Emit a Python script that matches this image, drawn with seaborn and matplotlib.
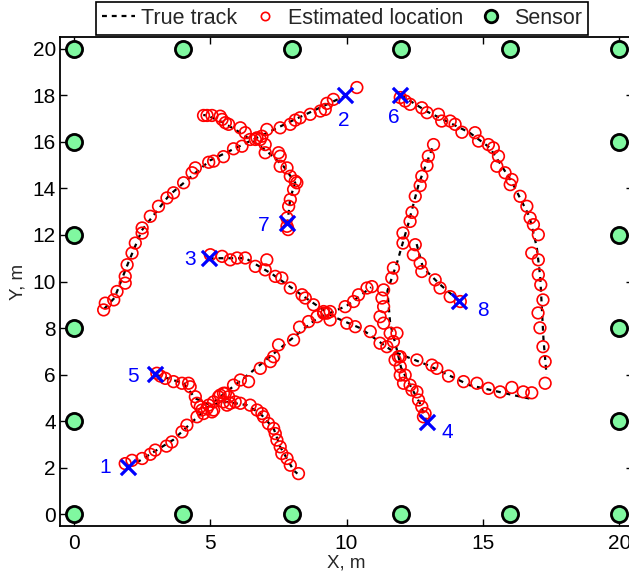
import matplotlib
matplotlib.use("Agg")
import matplotlib.pyplot as plt
from matplotlib.lines import Line2D
import numpy as np
import pandas as pd
import seaborn as sns

# ---- sensor grid (perimeter of a 20 m x 20 m area) ----
SENSOR_X = [0, 4, 8, 12, 16, 20, 0, 4, 8, 12, 16, 20, 0, 0, 0, 0, 20, 20, 20, 20]
SENSOR_Y = [0, 0, 0, 0, 0, 0, 20, 20, 20, 20, 20, 20, 4, 8, 12, 16, 4, 8, 12, 16]

# ---- true tracks (polyline vertices, m) ----
TRUE_1 = [(2.0, 2.0), (3.65, 3.2), (5.05, 4.75), (6.5, 6.1), (7.95, 7.5), (8.9, 8.4), (10.0, 8.95), (10.9, 9.75)]
TRUE_2 = [(10.0, 18.0), (8.0, 16.9), (6.5, 16.05), (5.0, 15.2), (3.5, 13.7), (2.5, 12.2), (2.0, 10.8), (1.5, 9.3), (1.1, 8.8)]
TRUE_3 = [(4.95, 11.0), (6.3, 11.0), (7.3, 10.3), (8.5, 9.3), (9.5, 8.5), (10.5, 8.0), (11.7, 7.0), (13.0, 6.4),
          (14.5, 5.55), (16.0, 5.15), (16.8, 4.95)]
TRUE_4 = [(12.95, 3.95), (12.7, 4.75), (12.35, 5.5), (12.0, 6.3), (11.85, 7.05), (11.6, 8.2), (11.5, 9.6),
          (11.85, 10.8), (12.27, 12.5), (12.65, 14.2), (13.2, 15.9)]
TRUE_5 = [(3.0, 6.0), (4.03, 5.63), (4.46, 4.98), (5.01, 4.69), (5.62, 4.83), (6.35, 4.69), (6.84, 4.33),
          (7.33, 3.69), (7.57, 2.9), (8.06, 1.89), (8.2, 1.75)]
TRUE_6 = [(12.0, 18.0), (12.95, 17.3), (14.5, 16.4), (15.25, 15.75), (16.05, 14.3), (16.7, 12.8), (16.97, 11.5),
          (17.1, 10.2), (17.22, 7.5), (17.33, 6.0)]
TRUE_7 = [(7.83, 12.45), (7.94, 13.59), (8.12, 14.24), (7.69, 14.95), (7.08, 15.6), (6.11, 16.39), (5.49, 16.82),
          (4.89, 17.13), (4.75, 17.15)]
TRUE_8 = [(14.12, 9.17), (13.4, 9.9), (12.8, 10.6), (12.55, 11.7)]

# ---- estimated locations (m) ----
EST_1 = [(1.89, 2.18), (2.14, 2.32), (2.51, 2.40), (2.81, 2.58), (2.99, 2.76), (3.40, 2.93), (3.60, 3.11),
         (3.97, 3.54), (4.15, 3.83), (4.52, 4.19), (4.70, 4.48), (4.95, 4.69), (5.13, 4.83), (5.31, 5.05),
         (5.49, 5.20), (5.86, 5.55), (6.11, 5.77), (6.41, 5.70), (6.84, 6.27), (7.21, 6.56), (7.33, 6.77),
         (7.51, 7.28), (8.06, 7.49), (8.28, 8.04), (8.61, 8.28), (8.92, 8.49), (9.16, 8.71), (9.40, 8.71),
         (9.95, 8.92), (10.26, 9.14), (10.44, 9.43), (10.75, 9.72), (10.93, 9.78)]
EST_2 = [(10.38, 18.33), (9.52, 17.82), (9.28, 17.65), (9.22, 17.39), (9.04, 17.32), (8.67, 17.18), (8.30, 17.03),
         (8.12, 16.93), (7.94, 16.75), (7.57, 16.60), (7.08, 16.53), (6.90, 16.24), (6.66, 16.10), (6.47, 16.10),
         (6.17, 15.81), (5.86, 15.70), (5.49, 15.36), (5.13, 15.17), (4.95, 15.12), (4.46, 14.88), (4.34, 14.67),
         (4.03, 14.24), (3.66, 13.81), (3.42, 13.59), (3.11, 13.23), (2.81, 12.80), (2.51, 12.30), (2.51, 12.08),
         (2.26, 11.65), (2.14, 11.22), (1.96, 10.72), (1.89, 10.22), (1.89, 9.93), (1.59, 9.57), (1.47, 9.21),
         (1.16, 9.07), (1.10, 8.78)]
EST_3 = [(5.01, 11.15), (5.44, 11.08), (5.74, 10.93), (5.99, 11.01), (6.29, 11.01), (6.66, 10.65), (7.02, 10.50),
         (7.08, 10.93), (7.39, 10.22), (7.63, 10.15), (7.94, 9.72), (8.37, 9.43), (8.49, 9.29), (8.79, 9.00),
         (9.16, 8.64), (9.28, 8.64), (9.40, 8.35), (10.01, 8.21), (10.32, 8.06), (10.87, 7.85), (11.23, 7.35),
         (11.48, 7.20), (12.58, 6.63), (13.13, 6.41), (13.31, 6.27), (13.74, 5.94), (14.29, 5.70), (14.78, 5.63),
         (15.20, 5.41), (15.63, 5.26), (16.06, 5.45), (16.48, 5.26), (16.79, 5.22)]
EST_4 = [(12.82, 4.19), (12.88, 4.33), (12.76, 4.62), (12.64, 4.91), (12.58, 5.26), (12.40, 5.34), (12.33, 5.55),
         (12.09, 5.63), (12.15, 5.98), (11.97, 5.98), (11.97, 6.34), (11.78, 6.63), (11.97, 6.77), (11.90, 6.77),
         (11.72, 7.42), (11.85, 7.78), (11.60, 7.78), (11.36, 8.21), (11.23, 8.49), (11.36, 8.92), (11.30, 9.29),
         (11.36, 9.64), (11.66, 10.15), (11.72, 10.58), (12.07, 11.65), (12.07, 12.08), (12.33, 12.58),
         (12.40, 12.97), (12.52, 13.66), (12.70, 14.12), (12.76, 14.52), (12.95, 14.98), (13.00, 15.38),
         (13.19, 15.88)]
EST_5 = [(3.05, 6.06), (3.18, 5.94), (3.36, 5.84), (3.66, 5.70), (3.97, 5.63), (4.21, 5.63), (4.27, 5.48),
         (4.46, 5.05), (4.52, 4.77), (4.64, 4.62), (4.76, 4.33), (4.89, 4.55), (5.07, 4.40), (5.13, 4.48),
         (5.37, 5.12), (5.56, 5.20), (5.68, 5.05), (5.49, 4.83), (5.74, 4.77), (5.92, 4.83), (6.11, 4.77),
         (5.62, 4.69), (6.47, 4.69), (6.72, 4.48), (6.90, 4.33), (6.96, 4.19), (7.14, 3.90), (7.33, 3.69),
         (7.39, 3.47), (7.45, 3.19), (7.57, 2.90), (7.63, 2.61), (7.82, 2.40), (7.94, 2.11), (8.24, 1.75)]
EST_6 = [(11.97, 17.90), (12.15, 17.75), (12.33, 17.61), (12.76, 17.46), (12.95, 17.25), (13.37, 17.18),
         (13.49, 16.89), (13.80, 16.89), (13.98, 16.75), (14.23, 16.41), (14.71, 16.39), (14.84, 16.03),
         (15.20, 15.88), (15.38, 15.74), (15.57, 15.38), (15.51, 14.95), (15.81, 14.67), (16.06, 14.38),
         (16.00, 14.16), (16.36, 13.66), (16.61, 13.23), (16.73, 12.73), (16.85, 12.44), (17.03, 12.01),
         (16.79, 11.22), (17.03, 10.93), (17.03, 10.29), (17.12, 9.86), (17.20, 9.21), (17.02, 8.65),
         (17.09, 8.01), (17.20, 7.20), (17.28, 6.56), (17.28, 5.63)]
EST_7 = [(7.82, 12.37), (7.86, 12.23), (7.82, 12.73), (7.88, 13.23), (7.94, 13.52), (8.06, 13.95), (8.18, 14.24),
         (8.12, 14.31), (7.94, 14.52), (7.82, 14.88), (7.57, 14.95), (7.57, 15.38), (7.51, 15.53), (7.02, 15.53),
         (7.02, 15.88), (6.84, 16.10), (6.72, 16.17), (6.29, 16.39), (6.11, 16.60), (5.68, 16.75), (5.56, 16.82),
         (5.44, 16.96), (5.37, 17.10), (5.07, 17.13), (4.89, 17.13), (4.76, 17.13)]
EST_8 = [(14.17, 9.14), (13.80, 9.35), (13.43, 9.72), (13.25, 10.07), (12.76, 10.43), (12.70, 10.79),
         (12.45, 11.15), (12.52, 11.58)]

# ---- track start points and their labels ----
TRACK_IDS = ["1", "2", "3", "4", "5", "6", "7", "8"]
START_X = [2.0, 9.95, 4.95, 12.95, 2.97, 11.97, 7.82, 14.12]
START_Y = [2.03, 18.03, 11.0, 3.97, 6.03, 18.03, 12.5, 9.15]
LABEL_X = [1.16, 9.9, 4.27, 13.7, 2.19, 11.72, 6.98, 15.0]
LABEL_Y = [2.02, 16.9, 10.93, 3.53, 5.94, 17.05, 12.4, 8.74]

TRUE_TRACKS = [TRUE_1, TRUE_2, TRUE_3, TRUE_4, TRUE_5, TRUE_6, TRUE_7, TRUE_8]
EST_TRACKS = [EST_1, EST_2, EST_3, EST_4, EST_5, EST_6, EST_7, EST_8]

true_df = pd.DataFrame(
    [(tid, i, x, y) for tid, trk in zip(TRACK_IDS, TRUE_TRACKS) for i, (x, y) in enumerate(trk)],
    columns=["track", "order", "x", "y"])
est_df = pd.DataFrame(
    [(tid, x, y) for tid, trk in zip(TRACK_IDS, EST_TRACKS) for (x, y) in trk],
    columns=["track", "x", "y"])
sensor_df = pd.DataFrame({"x": SENSOR_X, "y": SENSOR_Y})
start_df = pd.DataFrame({"x": START_X, "y": START_Y, "track": TRACK_IDS})

sns.set_style("ticks")
plt.rcParams["font.family"] = ["Liberation Sans", "DejaVu Sans"]

SENSOR_GREEN = "#80F8A0"

fig = plt.figure(figsize=(6.29, 5.75), dpi=100)
ax = fig.add_axes([60 / 629, 1 - 526 / 575, 573 / 629, 489 / 575])

# true tracks: one dashed polyline per track
sns.lineplot(data=true_df, x="x", y="y", units="track", estimator=None, sort=False,
             color="black", linestyle=(0, (2.2, 2.2)), linewidth=1.6, ax=ax, legend=False, zorder=2)

# estimated locations
sns.scatterplot(data=est_df, x="x", y="y", marker="o", s=70, facecolor="none",
                edgecolor="red", linewidth=1.2, ax=ax, legend=False, zorder=3)

# sensors
sns.scatterplot(data=sensor_df, x="x", y="y", marker="o", s=135, color=SENSOR_GREEN,
                edgecolor="black", linewidth=2.0, ax=ax, legend=False, zorder=4, clip_on=False)

# track starts
sns.scatterplot(data=start_df, x="x", y="y", marker="x", s=120, color="blue",
                linewidth=2.3, ax=ax, legend=False, zorder=5)
for lab, lx, ly in zip(TRACK_IDS, LABEL_X, LABEL_Y):
    ax.text(lx, ly, lab, color="blue", fontsize=15, ha="center", va="center", zorder=6)

ax.set_xlim(-0.5, 20.5)
ax.set_ylim(-0.5, 20.5)
ax.set_xticks([0, 5, 10, 15, 20])
ax.set_yticks(np.arange(0, 21, 2))
ax.tick_params(direction="in", length=5, width=1.0, top=True, right=True,
               labelsize=15, colors="black")
ax.tick_params(axis="x", pad=6)
ax.tick_params(axis="y", pad=3)
for sp in ax.spines.values():
    sp.set_visible(True)
    sp.set_linewidth(1.3)
    sp.set_color("black")
ax.set_xlabel("X, m", fontsize=13.5, labelpad=1)
ax.set_ylabel("Y, m", fontsize=13.5, labelpad=4)

handles = [
    Line2D([], [], color="black", linestyle=(0, (2.2, 2.2)), linewidth=1.6),
    Line2D([], [], color="red", marker="o", linestyle="none", markerfacecolor="none",
           markeredgewidth=1.2, markersize=6),
    Line2D([], [], color=SENSOR_GREEN, marker="o", linestyle="none", markeredgecolor="black",
           markeredgewidth=2.0, markersize=9),
]
leg = fig.legend(handles, ["True track", "Estimated location", "Sensor"], ncol=3,
                 loc="center", bbox_to_anchor=(342 / 629, 1 - 18.5 / 575),
                 fontsize=15.5, frameon=True, fancybox=False, framealpha=1,
                 edgecolor="black", handlelength=1.5, handletextpad=0.3,
                 columnspacing=0.55, borderpad=0.3, borderaxespad=0)
leg.get_frame().set_linewidth(1.2)

fig.savefig("out.png", dpi=100)
